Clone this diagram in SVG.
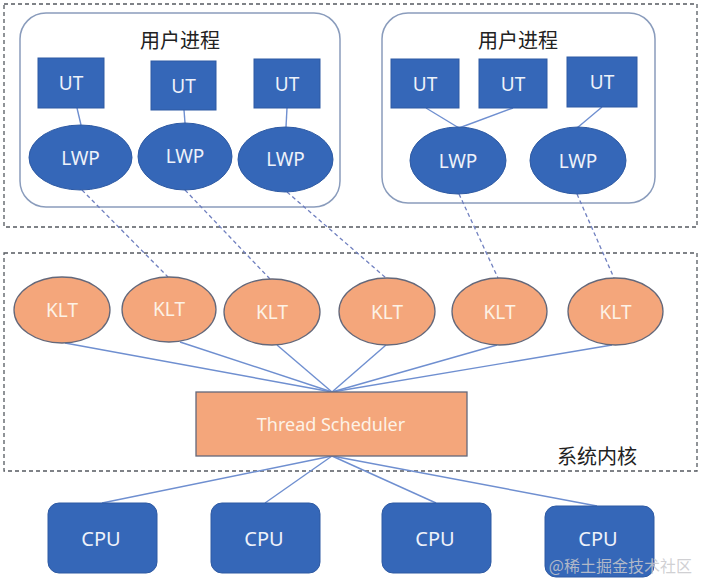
<svg xmlns="http://www.w3.org/2000/svg" width="701" height="579" viewBox="0 0 701 579">
<style>
.bg{fill:#ffffff}
.zone{fill:none;stroke:#555a60;stroke-width:1.3;stroke-dasharray:4 3}
.proc{fill:#ffffff;stroke:#8a9cbc;stroke-width:1.5}
.blue{fill:#3567b8;stroke:#2e5aa3;stroke-width:1}
.orange{fill:#f4a67b;stroke:#64687a;stroke-width:1.3}
.t{font-family:"Noto Sans","Open Sans",sans-serif;text-anchor:middle;dominant-baseline:central}
.tw{fill:#eef2fa;font-size:19px}
.to{fill:#fdf2e6;font-size:19px}
.cn{font-family:"Noto Sans CJK SC","Noto Sans",sans-serif;fill:#222;font-size:20px;text-anchor:middle;dominant-baseline:central}
.sol{stroke:#6f8fd0;stroke-width:1.4;fill:none}
.das{stroke:#6f7fbf;stroke-width:1.3;fill:none;stroke-dasharray:4 3}
</style>
<rect class="bg" x="0" y="0" width="701" height="579"/>
<g id="user-space">
<rect class="zone" x="4" y="4" width="693" height="223"/>
</g>
<g id="kernel-space">
<rect class="zone" x="4" y="253" width="693" height="218"/>
<text class="cn" x="597" y="455">系统内核</text>
</g>
<g id="process1">
<rect class="proc" x="20" y="13" width="320" height="194" rx="26"/>
<text class="cn" x="180" y="39">用户进程</text>
</g>
<g id="process2">
<rect class="proc" x="382" y="13" width="273" height="190" rx="26"/>
<text class="cn" x="518" y="39">用户进程</text>
</g>
<g id="connectors">
<line class="sol" x1="77" y1="108" x2="81" y2="125"/>
<line class="sol" x1="184" y1="110" x2="185" y2="123"/>
<line class="sol" x1="287" y1="108" x2="286" y2="127"/>
<line class="sol" x1="426" y1="108" x2="459" y2="128"/>
<line class="sol" x1="513" y1="108" x2="459" y2="128"/>
<line class="sol" x1="602" y1="107" x2="577" y2="128"/>
<line class="das" x1="82" y1="190" x2="168" y2="277"/>
<line class="das" x1="185" y1="190" x2="270" y2="279"/>
<line class="das" x1="287" y1="192" x2="386" y2="278"/>
<line class="das" x1="459" y1="194" x2="498" y2="278"/>
<line class="das" x1="577" y1="194" x2="614" y2="278"/>
<line class="sol" x1="65" y1="343" x2="332" y2="392"/>
<line class="sol" x1="180" y1="342" x2="332" y2="392"/>
<line class="sol" x1="277" y1="345" x2="332" y2="392"/>
<line class="sol" x1="386" y1="345" x2="332" y2="392"/>
<line class="sol" x1="497" y1="345" x2="332" y2="392"/>
<line class="sol" x1="612" y1="345" x2="332" y2="392"/>
<line class="sol" x1="332" y1="456" x2="102" y2="503"/>
<line class="sol" x1="332" y1="456" x2="265" y2="503"/>
<line class="sol" x1="332" y1="456" x2="436" y2="503"/>
<line class="sol" x1="332" y1="456" x2="597" y2="506"/>
</g>
<g id="ut1"><rect class="blue" x="38" y="58" width="66" height="50"/><text class="t tw" x="71" y="83">UT</text></g>
<g id="ut2"><rect class="blue" x="151" y="61" width="65" height="49"/><text class="t tw" x="183.5" y="85.5">UT</text></g>
<g id="ut3"><rect class="blue" x="254" y="59" width="66" height="49"/><text class="t tw" x="287" y="83.5">UT</text></g>
<g id="ut4"><rect class="blue" x="391" y="59" width="68" height="49"/><text class="t tw" x="425" y="83.5">UT</text></g>
<g id="ut5"><rect class="blue" x="479" y="59" width="68" height="49"/><text class="t tw" x="513" y="83.5">UT</text></g>
<g id="ut6"><rect class="blue" x="567" y="57" width="70" height="50"/><text class="t tw" x="602" y="82">UT</text></g>
<g id="lwp1"><ellipse class="blue" cx="80.5" cy="157.5" rx="51.5" ry="32.5"/><text class="t tw" x="80.5" y="157.5">LWP</text></g>
<g id="lwp2"><ellipse class="blue" cx="185" cy="156.5" rx="47" ry="33.5"/><text class="t tw" x="185" y="155.5">LWP</text></g>
<g id="lwp3"><ellipse class="blue" cx="285.5" cy="159.5" rx="47.5" ry="32.5"/><text class="t tw" x="285.5" y="159">LWP</text></g>
<g id="lwp4"><ellipse class="blue" cx="458" cy="160.5" rx="48" ry="33.5"/><text class="t tw" x="458" y="161">LWP</text></g>
<g id="lwp5"><ellipse class="blue" cx="578" cy="160.5" rx="48" ry="33.5"/><text class="t tw" x="578" y="161">LWP</text></g>
<g id="klt1"><ellipse class="orange" cx="62" cy="310" rx="48" ry="33"/><text class="t to" x="62" y="310">KLT</text></g>
<g id="klt2"><ellipse class="orange" cx="169" cy="309.5" rx="47" ry="32.5"/><text class="t to" x="169" y="309">KLT</text></g>
<g id="klt3"><ellipse class="orange" cx="272" cy="312" rx="48" ry="33"/><text class="t to" x="272" y="312">KLT</text></g>
<g id="klt4"><ellipse class="orange" cx="387" cy="311.5" rx="48" ry="33.5"/><text class="t to" x="387" y="311.5">KLT</text></g>
<g id="klt5"><ellipse class="orange" cx="499.5" cy="311.5" rx="47.5" ry="33.5"/><text class="t to" x="499.5" y="311.5">KLT</text></g>
<g id="klt6"><ellipse class="orange" cx="615.5" cy="311.5" rx="47.5" ry="33.5"/><text class="t to" x="615.5" y="311.5">KLT</text></g>
<g id="scheduler"><rect class="orange" x="196" y="392" width="271" height="64"/><text class="t to" x="331" y="424" style="font-size:18px">Thread Scheduler</text></g>
<g id="cpu1"><rect class="blue" x="48" y="503" width="109" height="70" rx="11"/><text class="t tw" x="101" y="538" style="font-size:20px">CPU</text></g>
<g id="cpu2"><rect class="blue" x="211" y="503" width="109" height="70" rx="11"/><text class="t tw" x="264" y="538" style="font-size:20px">CPU</text></g>
<g id="cpu3"><rect class="blue" x="382" y="503" width="109" height="70" rx="11"/><text class="t tw" x="435" y="538" style="font-size:20px">CPU</text></g>
<g id="cpu4"><rect class="blue" x="545" y="506" width="109" height="71" rx="11"/><text class="t tw" x="598" y="538" style="font-size:20px">CPU</text></g>
<text x="692" y="565" style="font-family:'Noto Sans CJK SC','Noto Sans',sans-serif;font-size:16px;fill:#c8c8cc;fill-opacity:0.85;text-anchor:end;dominant-baseline:central">@稀土掘金技术社区</text>
</svg>
